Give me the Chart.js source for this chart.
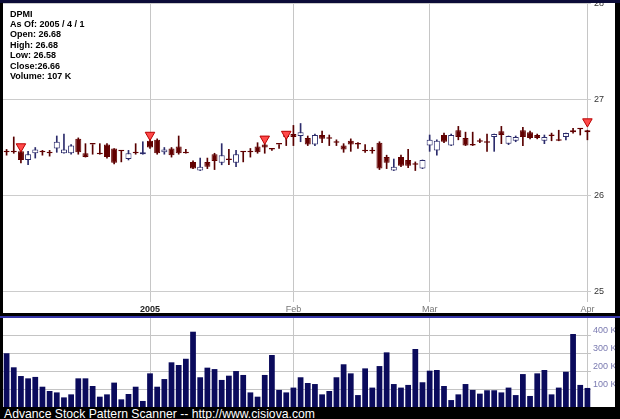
<!DOCTYPE html>
<html><head><meta charset="utf-8">
<script src="https://cdn.jsdelivr.net/npm/chart.js@4.4.1/dist/chart.umd.min.js"></script>
<style>
html,body{margin:0;padding:0;background:#000;width:620px;height:419px;overflow:hidden;position:relative}
#topband{position:absolute;left:0;top:0;width:620px;height:3px;background:#0c0c38}
#c1{position:absolute;left:3px;top:3px;background:#fff}
#sep{position:absolute;left:0;top:316px;width:620px;height:2px;background:#3535a8}
#c2{position:absolute;left:3px;top:318px;background:#fff}
#info{position:absolute;left:10px;top:8.5px;font:bold 9px "Liberation Sans",Arial,sans-serif;line-height:10.45px;color:#000;white-space:pre}
#footer{position:absolute;left:4px;top:407.5px;font:12.2px "Liberation Sans",Arial,sans-serif;line-height:12px;color:#fff;white-space:pre}
</style></head><body>
<div id="topband"></div>
<canvas id="c1" width="612" height="310"></canvas>
<div id="sep"></div>
<canvas id="c2" width="612" height="89"></canvas>
<div id="info"></div>
<div id="footer">Advance Stock Pattern Scanner -- http://www.cisiova.com</div>
<script>
const symbol = 'DPMI';
const dates = [
 '2004-12-03','2004-12-06','2004-12-07','2004-12-08','2004-12-09','2004-12-10','2004-12-13','2004-12-14','2004-12-15','2004-12-16',
 '2004-12-17','2004-12-20','2004-12-21','2004-12-22','2004-12-23','2004-12-27','2004-12-28','2004-12-29','2004-12-30','2004-12-31',
 '2005-01-03','2005-01-04','2005-01-05','2005-01-06','2005-01-07','2005-01-10','2005-01-11','2005-01-12','2005-01-13','2005-01-14',
 '2005-01-18','2005-01-19','2005-01-20','2005-01-21','2005-01-24','2005-01-25','2005-01-26','2005-01-27','2005-01-28','2005-01-31',
 '2005-02-01','2005-02-02','2005-02-03','2005-02-04','2005-02-07','2005-02-08','2005-02-09','2005-02-10','2005-02-11','2005-02-14',
 '2005-02-15','2005-02-16','2005-02-17','2005-02-18','2005-02-22','2005-02-23','2005-02-24','2005-02-25','2005-02-28',
 '2005-03-01','2005-03-02','2005-03-03','2005-03-04','2005-03-07','2005-03-08','2005-03-09','2005-03-10','2005-03-11','2005-03-14',
 '2005-03-15','2005-03-16','2005-03-17','2005-03-18','2005-03-21','2005-03-22','2005-03-23','2005-03-24','2005-03-28','2005-03-29',
 '2005-03-30','2005-03-31','2005-04-01'
];
const opens = [
 26.45,26.45,26.46,26.37,26.44,26.45,26.44,26.49,26.44,26.44,
 26.59,26.44,26.53,26.43,26.53,26.49,26.46,26.38,26.44,26.43,
 26.57,26.58,26.45,26.49,26.51,26.44,26.35,26.26,26.35,26.43,
 26.34,26.37,26.34,26.45,26.45,26.51,26.53,26.48,26.53,26.63,
 26.64,26.62,26.60,26.53,26.63,26.59,26.55,26.52,26.57,26.53,
 26.46,26.47,26.55,26.40,26.26,26.40,26.37,26.32,26.28,
 26.52,26.47,26.63,26.52,26.68,26.60,26.52,26.56,26.55,26.61,
 26.67,26.54,26.57,26.68,26.66,26.63,26.57,26.62,26.57,26.61,
 26.68,26.69,26.68
];
const highs = [
 26.48,26.61,26.47,26.46,26.50,26.47,26.47,26.62,26.64,26.53,
 26.60,26.54,26.53,26.54,26.54,26.49,26.46,26.47,26.54,26.56,
 26.59,26.59,26.50,26.50,26.62,26.48,26.36,26.39,26.39,26.44,
 26.54,26.48,26.47,26.45,26.49,26.55,26.54,26.49,26.53,26.63,
 26.73,26.75,26.62,26.64,26.67,26.63,26.58,26.54,26.59,26.55,
 26.53,26.50,26.56,26.42,26.38,26.42,26.48,26.35,26.37,
 26.63,26.58,26.65,26.64,26.72,26.66,26.66,26.59,26.64,26.64,
 26.72,26.62,26.62,26.71,26.67,26.64,26.63,26.65,26.68,26.65,
 26.70,26.69,26.68
];
const lows = [
 26.42,26.44,26.34,26.32,26.39,26.42,26.41,26.45,26.44,26.43,
 26.43,26.40,26.43,26.43,26.39,26.33,26.35,26.37,26.43,26.43,
 26.49,26.43,26.43,26.40,26.43,26.44,26.28,26.26,26.28,26.27,
 26.32,26.32,26.30,26.35,26.40,26.44,26.44,26.47,26.49,26.52,
 26.52,26.56,26.52,26.52,26.55,26.52,26.52,26.45,26.46,26.49,
 26.45,26.44,26.27,26.28,26.26,26.30,26.29,26.26,26.28,
 26.46,26.42,26.55,26.52,26.58,26.52,26.52,26.55,26.46,26.46,
 26.54,26.53,26.56,26.52,26.59,26.59,26.54,26.57,26.57,26.58,
 26.65,26.63,26.58
];
const closes = [
 26.45,26.45,26.37,26.43,26.48,26.45,26.44,26.56,26.48,26.52,
 26.45,26.40,26.53,26.43,26.40,26.34,26.46,26.44,26.44,26.45,
 26.50,26.44,26.48,26.42,26.44,26.44,26.28,26.30,26.30,26.36,
 26.42,26.37,26.43,26.45,26.45,26.45,26.50,26.48,26.53,26.61,
 26.61,26.66,26.53,26.63,26.59,26.59,26.55,26.48,26.53,26.53,
 26.46,26.46,26.28,26.34,26.30,26.31,26.31,26.32,26.37,
 26.58,26.57,26.56,26.63,26.61,26.52,26.52,26.56,26.55,26.64,
 26.63,26.62,26.61,26.61,26.60,26.60,26.61,26.62,26.57,26.65,
 26.66,26.69,26.66
];
const volumesK = [
 302,223,174,161,169,114,90,82,54,71,
 161,161,118,58,71,137,43,73,114,34,
 189,114,157,251,236,271,423,167,221,213,
 152,176,202,180,82,58,180,292,96,82,
 109,167,135,129,71,90,167,240,189,67,
 217,109,230,307,129,109,124,326,139,
 204,208,118,39,71,129,96,75,94,94,
 82,109,67,185,62,189,208,71,109,198,
 410,124,107
];
const markerDates = ['2004-12-07','2005-01-03','2005-01-26','2005-01-31','2005-04-01'];
const markerValues = [26.51, 26.63, 26.59, 26.64, 26.77];
const tickDates = ['2005-01-03','2005-02-01','2005-03-01','2005-04-01'];
const tickLabels = ['2005','Feb','Mar','Apr'];
const priceTicks = [25, 26, 27, 28];
const volumeTicks = [100, 200, 300, 400];

// info box
const last = dates.length - 1;
const lastDate = dates[last].split('-');
document.getElementById('info').textContent =
  symbol + '\n' +
  'As Of: ' + lastDate[0] + ' / ' + parseInt(lastDate[1]) + ' / ' + parseInt(lastDate[2]) + '\n' +
  'Open: ' + opens[last].toFixed(2) + '\n' +
  'High: ' + highs[last].toFixed(2) + '\n' +
  'Low: ' + lows[last].toFixed(2) + '\n' +
  'Close:' + closes[last].toFixed(2) + '\n' +
  'Volume: ' + volumesK[last] + ' K';

const FONT = '"Liberation Sans", Arial, sans-serif';
const tickIndex = i => tickDates.indexOf(dates[i]);
const isUp = i => closes[i] > opens[i];
const gridColorX = ctx => tickIndex(ctx.index) >= 0 ? '#c6c6c6' : 'rgba(0,0,0,0)';

const bodyFill = dates.map((d, i) => isUp(i) ? '#ffffff' : '#620000');
const bodyBorder = dates.map((d, i) => isUp(i) ? '#2c2c6c' : '#620000');
const wickColor = dates.map((d, i) => isUp(i) ? '#2c2c6c' : '#580000');
const markerData = dates.map(d => { const k = markerDates.indexOf(d); return k >= 0 ? markerValues[k] : null; });

new Chart(document.getElementById('c1'), {
  type: 'bar',
  data: {
    labels: dates,
    datasets: [
      { type: 'line', data: markerData, showLine: false, pointStyle: 'triangle', rotation: 180,
        pointRadius: 5.5, pointBackgroundColor: '#ff4a4a', pointBorderColor: '#b80000', pointBorderWidth: 1, order: 0 },
      { data: dates.map((d, i) => [opens[i], closes[i]]), backgroundColor: bodyFill, borderColor: bodyBorder,
        borderWidth: 1, borderSkipped: false, grouped: false, barPercentage: 0.84, categoryPercentage: 1,
        minBarLength: 1.5, order: 1 },
      { data: dates.map((d, i) => [lows[i], highs[i]]), backgroundColor: wickColor, borderWidth: 0,
        grouped: false, barThickness: 1, order: 2 }
    ]
  },
  options: {
    responsive: false, animation: false, events: [],
    layout: { padding: 0, autoPadding: false },
    plugins: { legend: { display: false }, tooltip: { enabled: false } },
    scales: {
      x: {
        offset: true,
        grid: { offset: false, color: gridColorX, drawTicks: false },
        border: { display: false },
        ticks: {
          autoSkip: false, maxRotation: 0, minRotation: 0, padding: 2,
          callback: (v, i) => { const k = tickIndex(i); return k >= 0 ? tickLabels[k] : ''; },
          font: ctx => ({ family: FONT, size: 9, weight: tickIndex(ctx.index) === 0 ? 'bold' : 'normal' }),
          color: ctx => tickIndex(ctx.index) === 0 ? '#222222' : '#777777'
        },
        afterFit: s => { s.height = 11; s.paddingLeft = 0; s.paddingRight = 0; }
      },
      y: {
        position: 'right', min: 24.8906, max: 28.0052,
        grid: { color: '#cccccc', drawTicks: false },
        border: { display: false },
        ticks: { padding: 3, font: { family: FONT, size: 9 }, color: '#333333' },
        afterBuildTicks: s => { s.ticks = priceTicks.map(v => ({ value: v })); },
        afterFit: s => { s.width = 24; s.paddingTop = 0; s.paddingBottom = 0; }
      }
    }
  }
});

new Chart(document.getElementById('c2'), {
  type: 'bar',
  data: {
    labels: dates,
    datasets: [
      { data: volumesK, backgroundColor: '#0b0b5c', borderWidth: 0, barPercentage: 0.8, categoryPercentage: 1 }
    ]
  },
  options: {
    responsive: false, animation: false, events: [],
    layout: { padding: 0, autoPadding: false },
    plugins: { legend: { display: false }, tooltip: { enabled: false } },
    scales: {
      x: {
        offset: true,
        grid: { offset: false, color: gridColorX, drawTicks: false },
        border: { display: false },
        ticks: { display: false, autoSkip: false },
        afterFit: s => { s.height = 0; s.paddingLeft = 0; s.paddingRight = 0; }
      },
      y: {
        position: 'right', min: 0, max: 500,
        grid: { color: '#c4c4c4', drawTicks: false },
        border: { display: false },
        ticks: { padding: 2, labelOffset: -5, font: { family: FONT, size: 9 }, color: '#7a7ab0',
                 callback: v => v + ' K' },
        afterBuildTicks: s => { s.ticks = volumeTicks.map(v => ({ value: v })); },
        afterFit: s => { s.width = 24; s.paddingTop = 0; s.paddingBottom = 0; }
      }
    }
  }
});
</script>
</body></html>
